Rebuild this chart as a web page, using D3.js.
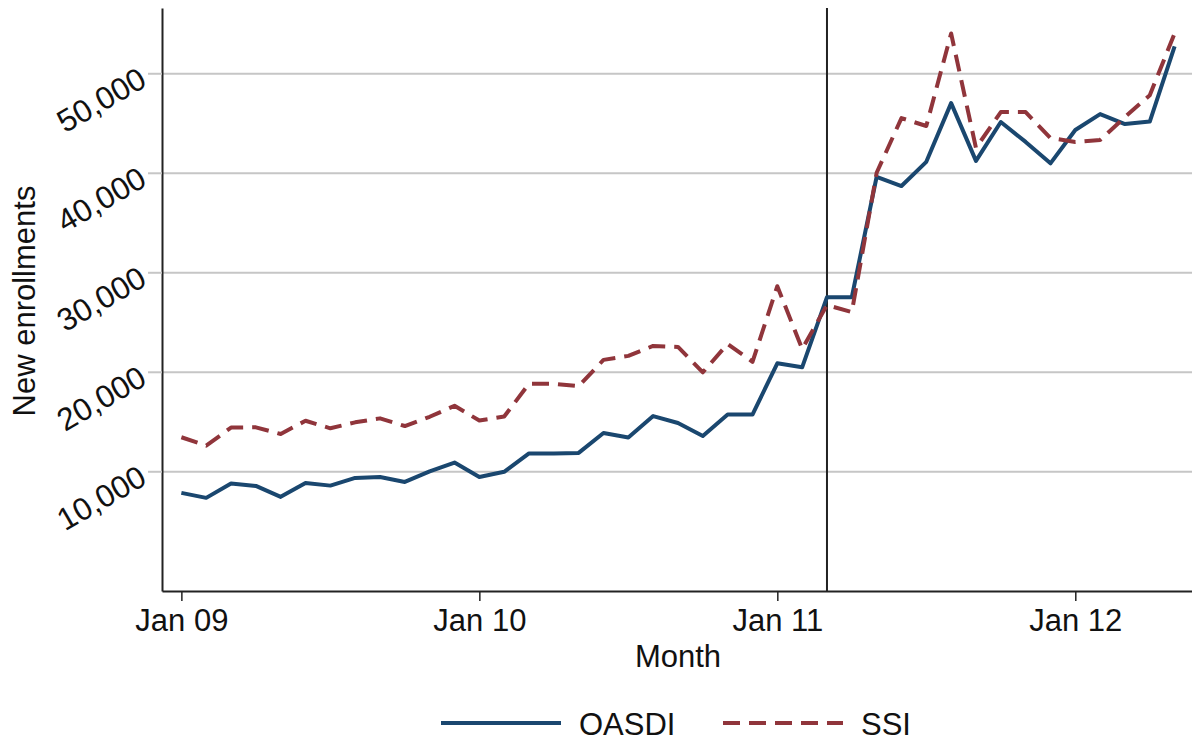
<!DOCTYPE html>
<html>
<head>
<meta charset="utf-8">
<style>
    html, body { margin: 0; padding: 0; background: #fff; }
    svg { display: block; font-family: "Liberation Sans", Arial, sans-serif; }
    .grid line { stroke: #c6c6c6; stroke-width: 2; }
    .grid .domain { display: none; }
    .axis text { fill: #111; }
</style>
</head>
<body>
<svg width="1192" height="742"></svg>
<script src="https://d3js.org/d3.v7.min.js"></script>
<script>
    // monthly new enrollments, Jan 2009 - May 2012
    var months = ["Jan 09","Feb 09","Mar 09","Apr 09","May 09","Jun 09","Jul 09","Aug 09","Sep 09","Oct 09","Nov 09","Dec 09",
        "Jan 10","Feb 10","Mar 10","Apr 10","May 10","Jun 10","Jul 10","Aug 10","Sep 10","Oct 10","Nov 10","Dec 10",
        "Jan 11","Feb 11","Mar 11","Apr 11","May 11","Jun 11","Jul 11","Aug 11","Sep 11","Oct 11","Nov 11","Dec 11",
        "Jan 12","Feb 12","Mar 12","Apr 12","May 12"];

    var oasdi = [7830, 7330, 8770, 8530, 7430, 8830, 8560, 9330, 9430, 8930, 10000, 10880,
        9430, 9950, 11800, 11800, 11850, 13850, 13400, 15550, 14850, 13550, 15700, 15700,
        20850, 20450, 27500, 27500, 39600, 38670, 41100, 47000, 41200, 45100, 43100, 40950,
        44300, 45900, 44900, 45150, 52700];

    var ssi = [13420, 12580, 14390, 14420, 13750, 15080, 14320, 14920, 15320, 14550, 15480, 16580,
        15100, 15500, 18800, 18800, 18550, 21200, 21600, 22600, 22500, 19950, 22800, 21000,
        28600, 22300, 26700, 26000, 40000, 45500, 44700, 54000, 42500, 46100, 46100, 43500,
        43100, 43300, 45600, 47800, 54000];

    var xTicks = ["Jan 09", "Jan 10", "Jan 11", "Jan 12"];
    var yTicks = [10000, 20000, 30000, 40000, 50000];
    var markMonth = "Mar 11";

    var series = [
        {name: "OASDI", values: oasdi, color: "#1a476f", dash: null},
        {name: "SSI", values: ssi, color: "#90353b", dash: "17,9"}
    ];

    var svg = d3.select("svg"),
        margin = {top: 8, right: 0, bottom: 151, left: 162},
        width = +svg.attr("width") - margin.left - margin.right,
        height = +svg.attr("height") - margin.top - margin.bottom,
        g = svg.append("g").attr("transform", "translate(" + margin.left + "," + margin.top + ")");

    var x = d3.scaleLinear()
        .domain([-0.78, 40.7])
        .range([0, width]);

    var y = d3.scaleLinear()
        .domain([-2030, 56560])
        .range([height, 0]);

    var fmt = d3.format(",");

    // gridlines
    g.append("g")
        .attr("class", "grid")
        .call(d3.axisLeft(y).tickValues(yTicks).tickSize(-width).tickFormat(""));

    // left axis
    var aixL = g.append("g")
        .attr("class", "axis")
        .call(d3.axisLeft(y).tickValues(yTicks).tickSize(14).tickSizeOuter(0).tickFormat(fmt));
    aixL.select(".domain").attr("stroke", "#222").attr("stroke-width", 2);
    aixL.selectAll(".tick line").attr("stroke", "#c6c6c6").attr("stroke-width", 2);
    aixL.selectAll(".tick text")
        .attr("x", null).attr("dy", null)
        .attr("text-anchor", "end")
        .attr("dominant-baseline", "central")
        .attr("transform", "translate(-19,2) rotate(-30)")
        .style("font-size", "31.5px");

    // bottom axis
    var aixB = g.append("g")
        .attr("class", "axis")
        .attr("transform", "translate(0," + height + ")")
        .call(d3.axisBottom(x)
            .tickValues(xTicks.map(function(d) { return months.indexOf(d); }))
            .tickFormat(function(d) { return months[d]; })
            .tickSize(10).tickSizeOuter(0).tickPadding(8));
    aixB.select(".domain").attr("stroke", "#222").attr("stroke-width", 2);
    aixB.selectAll(".tick line").attr("stroke", "#222").attr("stroke-width", 1.5);
    aixB.selectAll(".tick text").style("font-size", "31px");

    // vertical marker line
    g.append("line")
        .attr("x1", x(months.indexOf(markMonth)))
        .attr("x2", x(months.indexOf(markMonth)))
        .attr("y1", 0)
        .attr("y2", height)
        .attr("stroke", "#222")
        .attr("stroke-width", 2);

    var line = d3.line()
        .x(function(d, i) { return x(i); })
        .y(function(d) { return y(d); });

    g.selectAll(".series")
        .data(series)
        .enter().append("path")
        .attr("class", "series")
        .attr("fill", "none")
        .attr("stroke", function(d) { return d.color; })
        .attr("stroke-width", 4)
        .attr("stroke-linejoin", "round")
        .attr("stroke-dasharray", function(d) { return d.dash; })
        .attr("d", function(d) { return line(d.values); });

    // axis titles
    svg.append("text")
        .attr("x", 678)
        .attr("y", 667)
        .attr("text-anchor", "middle")
        .style("font-size", "31px")
        .attr("fill", "#111")
        .text("Month");

    svg.append("text")
        .attr("transform", "translate(35,301) rotate(-90)")
        .attr("text-anchor", "middle")
        .style("font-size", "31px")
        .attr("fill", "#111")
        .text("New enrollments");

    // legend
    var legend = svg.append("g").attr("transform", "translate(441,723)");
    var item = legend.selectAll(".item")
        .data(series)
        .enter().append("g")
        .attr("class", "item")
        .attr("transform", function(d, i) { return "translate(" + (i * 282) + ",0)"; });
    item.append("line")
        .attr("x1", 0).attr("x2", 120)
        .attr("stroke", function(d) { return d.color; })
        .attr("stroke-width", 4)
        .attr("stroke-dasharray", function(d) { return d.dash; });
    item.append("text")
        .attr("x", 138)
        .attr("y", 12)
        .style("font-size", "31px")
        .attr("fill", "#111")
        .text(function(d) { return d.name; });
</script>
</body>
</html>
